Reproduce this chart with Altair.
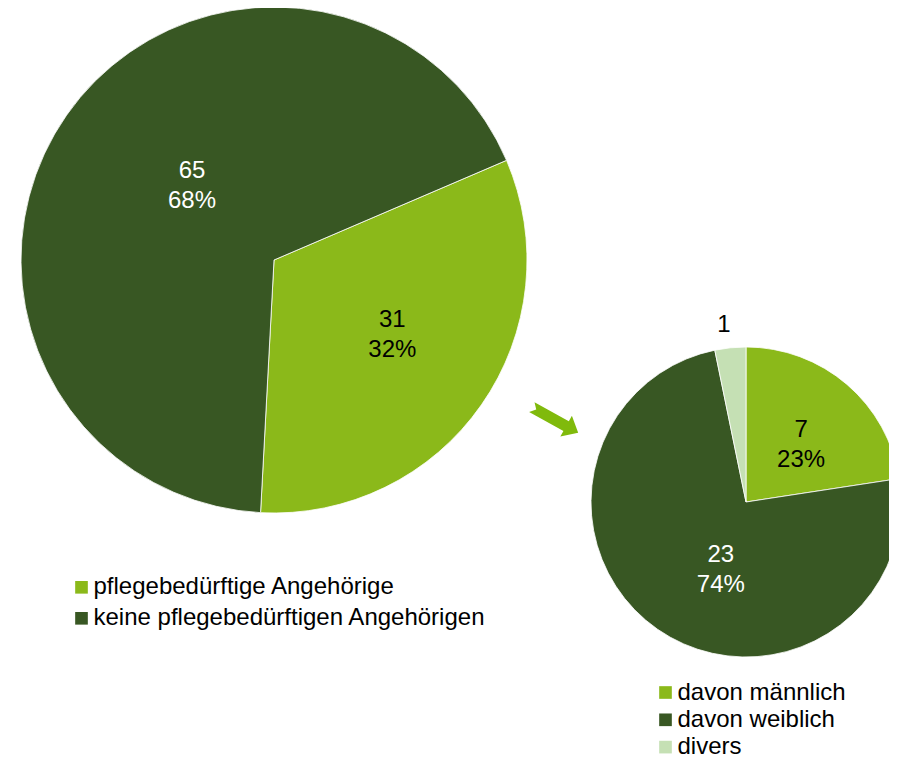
import math
import altair as alt
import pandas as pd

# ---- data ----
big_cats = ["pflegebedürftige Angehörige", "keine pflegebedürftigen Angehörigen"]
big_vals = [31, 65]
big_pcts = ["32%", "68%"]

small_cats = ["davon männlich", "davon weiblich", "divers"]
small_vals = [7, 23, 1]
small_pcts = ["23%", "74%", "3%"]

GREEN = "#8BB91A"
DARK = "#385723"
LIGHT = "#C5E0B4"
ARROW = "#80BA0C"
FONT = "Liberation Sans"
LABEL_SIZE = 24
LEGEND_SIZE = 24
LH = 30

big = pd.DataFrame({
    "cat": big_cats, "val": big_vals, "pct": big_pcts, "ord": list(range(len(big_cats)))
})
big["label"] = [f"{v}\n{p}" for v, p in zip(big_vals, big_pcts)]

small = pd.DataFrame({
    "cat": small_cats, "val": small_vals, "pct": small_pcts, "ord": list(range(len(small_cats)))
})
small["label"] = [f"{v}\n{p}" if c != "divers" else str(v)
                  for c, v, p in zip(small_cats, small_vals, small_pcts)]

# geometry (pixels)
BCX, BCY, BR = 266, 252, 253
SCX, SCY, SR = 738, 494, 155
big_off = math.radians(66.8)

big_theta = alt.Theta("val:Q", stack=True,
                      scale=alt.Scale(range=[big_off, big_off + 2 * math.pi]))
small_theta = alt.Theta("val:Q", stack=True,
                        scale=alt.Scale(range=[0, 2 * math.pi]))

legend_common = dict(
    orient="none", title=None, symbolType="square", symbolSize=160,
    symbolStrokeWidth=0, labelFont=FONT, labelFontSize=LEGEND_SIZE, labelColor="black",
    labelLimit=600, labelOffset=0,
)

big_arc = alt.Chart(big).mark_arc(stroke="white", strokeWidth=0.8).encode(
    theta=big_theta,
    order=alt.Order("ord:Q"),
    color=alt.Color("cat:N", scale=alt.Scale(domain=big_cats, range=[GREEN, DARK]),
                    legend=alt.Legend(legendX=61.5, legendY=567.3, rowPadding=7.0, **legend_common)),
    x=alt.value(BCX), y=alt.value(BCY), radius=alt.value(BR),
)

small_arc = alt.Chart(small).mark_arc(stroke="white", strokeWidth=0.8).encode(
    theta=small_theta,
    order=alt.Order("ord:Q"),
    color=alt.Color("cat:N", scale=alt.Scale(domain=small_cats, range=[GREEN, DARK, LIGHT]),
                    legend=alt.Legend(legendX=645.5, legendY=672.5, rowPadding=3.3, **legend_common)),
    x=alt.value(SCX), y=alt.value(SCY), radius=alt.value(SR),
)


def slice_label(df, theta, cx, cy, cat, radius, dx, dy, color):
    """Label of one slice; the other slices keep their place in the stack with empty text."""
    return alt.Chart(df).transform_calculate(
        txt=f"datum.cat == '{cat}' ? datum.label : ''"
    ).mark_text(
        font=FONT, fontSize=LABEL_SIZE, lineBreak="\n", lineHeight=LH,
        baseline="middle", align="center", dx=dx, dy=dy, color=color
    ).encode(
        theta=theta,
        order=alt.Order("ord:Q"),
        text="txt:N",
        x=alt.value(cx), y=alt.value(cy), radius=alt.value(radius),
    )


labels = [
    slice_label(big, big_theta, BCX, BCY, big_cats[0], 137, 6, -18, "black"),
    slice_label(big, big_theta, BCX, BCY, big_cats[1], 111, 9, -25, "white"),
    slice_label(small, small_theta, SCX, SCY, small_cats[0], 80, 3, -11, "black"),
    slice_label(small, small_theta, SCX, SCY, small_cats[1], 72, 16, -6.5, "white"),
    slice_label(small, small_theta, SCX, SCY, small_cats[2], 178, -4, 0.5, "black"),
]

arrow_path = "M -1 -0.21 L 0.48 -0.21 L 0.48 -0.45 L 1 0 L 0.48 0.45 L 0.48 0.21 L -1 0.21 L -0.81 0 Z"
arrow = alt.Chart(pd.DataFrame({"a": [0]})).mark_point(
    shape=arrow_path, filled=True, color=ARROW, opacity=1, size=2809, angle=29, strokeWidth=0
).encode(x=alt.value(547), y=alt.value(412))

chart = alt.layer(big_arc, small_arc, *labels, arrow).resolve_scale(
    color="independent", theta="independent"
).properties(
    width=881, height=750, padding=0, autosize=alt.AutoSizeParams(type="none")
).configure_view(stroke=None)

chart.save("out.html", embed_options={"renderer": "svg", "actions": False})
